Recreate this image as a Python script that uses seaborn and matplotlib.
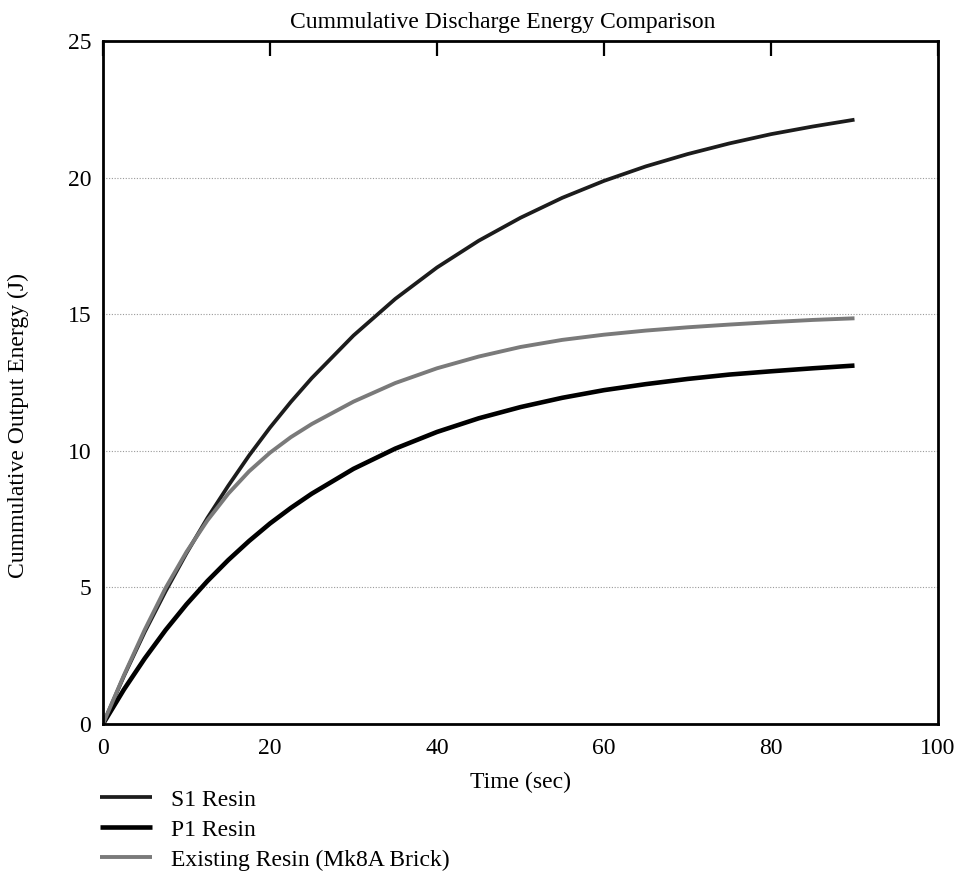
import matplotlib
matplotlib.use("Agg")
import matplotlib.pyplot as plt
import numpy as np
import pandas as pd
import seaborn as sns

# ---- data ----
time_sec = [0, 2.5, 5, 7.5, 10, 12.5, 15, 17.5, 20, 22.5, 25,
            30, 35, 40, 45, 50, 55, 60, 65, 70, 75, 80, 85, 90]
s1_resin = [0, 1.75, 3.37, 4.86, 6.25, 7.54, 8.72, 9.83, 10.85, 11.79, 12.66,
            14.22, 15.56, 16.71, 17.69, 18.53, 19.26, 19.88, 20.41, 20.86, 21.25, 21.59, 21.87, 22.12]
p1_resin = [0, 1.26, 2.40, 3.44, 4.38, 5.23, 6.00, 6.70, 7.34, 7.91, 8.43,
            9.34, 10.08, 10.69, 11.19, 11.60, 11.94, 12.22, 12.44, 12.63, 12.79, 12.91, 13.02, 13.12]
existing_resin = [0, 1.78, 3.45, 4.98, 6.30, 7.45, 8.43, 9.25, 9.93, 10.50, 10.98,
                  11.80, 12.48, 13.02, 13.45, 13.80, 14.06, 14.25, 14.40, 14.52, 14.62, 14.71, 14.79, 14.85]
series_labels = ["S1 Resin", "P1 Resin", "Existing Resin (Mk8A Brick)"]
x_ticks = [0, 20, 40, 60, 80, 100]
y_ticks = [0, 5, 10, 15, 20, 25]

sns.set_style("white")
plt.rcParams["font.family"] = ["Liberation Serif", "DejaVu Serif"]
plt.rcParams["font.size"] = 17
plt.rcParams["text.color"] = "black"
plt.rcParams["axes.labelcolor"] = "black"
plt.rcParams["xtick.color"] = "black"
plt.rcParams["ytick.color"] = "black"

W, H = 963, 883
fig = plt.figure(figsize=(W / 100, H / 100), dpi=100)
ax = fig.add_axes([103 / W, 1 - 724 / H, (938 - 103) / W, (724 - 41) / H])

df = pd.DataFrame({"t": time_sec, "S1": s1_resin, "P1": p1_resin, "EX": existing_resin})
styles = [("S1", "#1c1c1c", 2.7), ("P1", "#000000", 3.3), ("EX", "#7a7a7a", 2.8)]
for (col, color, lw), lab in zip(styles, series_labels):
    sns.lineplot(data=df, x="t", y=col, ax=ax, color=color, linewidth=lw,
                 label=lab, legend=False, solid_capstyle="butt", solid_joinstyle="round")

ax.set_xlim(0, 100)
ax.set_ylim(0, 25)
ax.set_xticks(x_ticks)
ax.set_yticks(y_ticks)
ax.set_xlabel("")
ax.set_ylabel("")
ax.tick_params(axis="x", direction="in", top=True, length=11, width=1.6,
               pad=10, labelsize=17, colors="black")
ax.tick_params(axis="y", length=0, pad=8.5, labelsize=17, colors="black")
ax.yaxis.grid(True, linestyle=(0, (1, 1.5)), color="#9a9a9a", linewidth=0.8)
ax.xaxis.grid(False)
for sp in ax.spines.values():
    sp.set_visible(True)
    sp.set_color("black")
    sp.set_linewidth(2.0)

fig.text(503 / W, 1 - 28 / H, "Cummulative Discharge Energy Comparison",
         ha="center", va="baseline", fontsize=17)
fig.text(18 / W, 1 - 425 / H, "Cummulative Output Energy (J)",
         ha="center", va="center", rotation=90, fontsize=17)
fig.text(521 / W, 1 - 782 / H, "Time (sec)", ha="center", va="center", fontsize=17)

handles, labels = ax.get_legend_handles_labels()
fig.legend(handles, labels, loc="upper left", bbox_to_anchor=(100 / W, 1 - 789 / H),
           frameon=False, borderpad=0, borderaxespad=0, handlelength=2.2,
           handletextpad=0.8, labelspacing=0.36, fontsize=17)

fig.savefig("out.png", dpi=100)
